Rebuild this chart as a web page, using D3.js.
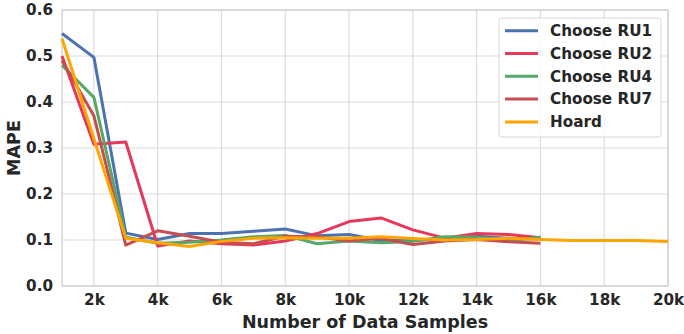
<!DOCTYPE html>
<html>
<head>
<meta charset="utf-8">
<script src="https://cdn.jsdelivr.net/npm/d3@7"></script>
<style>
  body { margin: 0; background: #fff; }
  text { font-family: "DejaVu Sans", sans-serif; font-weight: bold; fill: #262626; }
</style>
</head>
<body>
<div id="chart"></div>
<script>
// sample counts in thousands
var samples = [1, 2, 3, 4, 5, 6, 7, 8, 9, 10, 11, 12, 13, 14, 15, 16, 17, 18, 19, 20];
var ru1 = [0.549, 0.497, 0.115, 0.101, 0.114, 0.114, 0.119, 0.124, 0.109, 0.112, 0.099, 0.100, 0.101, 0.108, 0.104, 0.102];
var ru2 = [0.500, 0.308, 0.313, 0.087, 0.098, 0.092, 0.089, 0.098, 0.114, 0.140, 0.148, 0.122, 0.104, 0.114, 0.112, 0.105];
var ru4 = [0.480, 0.410, 0.106, 0.093, 0.095, 0.100, 0.107, 0.110, 0.092, 0.098, 0.094, 0.097, 0.107, 0.106, 0.098, 0.106];
var ru7 = [0.490, 0.370, 0.089, 0.120, 0.108, 0.095, 0.092, 0.108, 0.107, 0.098, 0.104, 0.090, 0.098, 0.101, 0.096, 0.093];
var hoard = [0.538, 0.320, 0.104, 0.094, 0.086, 0.097, 0.104, 0.105, 0.104, 0.104, 0.107, 0.103, 0.100, 0.101, 0.104, 0.101, 0.099, 0.099, 0.099, 0.097];
var seriesNames = ["Choose RU1", "Choose RU2", "Choose RU4", "Choose RU7", "Hoard"];
var seriesColors = ["#4c72b0", "#e6395a", "#55a868", "#c44e52", "#ffa500"];
var xTicks = [2, 4, 6, 8, 10, 12, 14, 16, 18, 20];
var yTicks = [0, 0.1, 0.2, 0.3, 0.4, 0.5, 0.6];

var width = 684, height = 334,
  margin = {left: 62, right: 16, top: 10, bottom: 48};

var svg = d3.select("#chart").append("svg")
  .attr("width", width)
  .attr("height", height);

var x = d3.scaleLinear().domain([1, 20]).range([margin.left, width - margin.right]);
var y = d3.scaleLinear().domain([0, 0.6]).range([height - margin.bottom, margin.top]);

// grid
svg.append("g").selectAll("line").data(xTicks).enter().append("line")
  .attr("x1", d => x(d)).attr("x2", d => x(d))
  .attr("y1", y(0)).attr("y2", y(0.6))
  .attr("stroke", "#dcdcdc").attr("stroke-width", 1.2);
svg.append("g").selectAll("line").data(yTicks).enter().append("line")
  .attr("x1", x(1)).attr("x2", x(20))
  .attr("y1", d => y(d)).attr("y2", d => y(d))
  .attr("stroke", "#dcdcdc").attr("stroke-width", 1.2);

// frame
svg.append("rect")
  .attr("x", x(1)).attr("y", y(0.6))
  .attr("width", x(20) - x(1)).attr("height", y(0) - y(0.6))
  .attr("fill", "none").attr("stroke", "#cccccc").attr("stroke-width", 1.2);

// axes
var xAxis = svg.append("g")
  .attr("transform", "translate(0," + y(0) + ")")
  .call(d3.axisBottom(x).tickValues(xTicks).tickSize(0).tickPadding(8).tickFormat(d => d + "k"));
var yAxis = svg.append("g")
  .attr("transform", "translate(" + x(1) + ",0)")
  .call(d3.axisLeft(y).tickValues(yTicks).tickSize(0).tickPadding(9).tickFormat(d3.format(".1f")));
[xAxis, yAxis].forEach(function(a) {
  a.select(".domain").remove();
  a.selectAll("text").attr("font-size", 15.2).style("font-family", "DejaVu Sans").style("font-weight", "bold").attr("fill", "#262626");
});

svg.append("text")
  .attr("x", (x(1) + x(20)) / 2).attr("y", 328)
  .attr("text-anchor", "middle").attr("font-size", 17.5)
  .text("Number of Data Samples");
svg.append("text")
  .attr("transform", "translate(20," + ((y(0) + y(0.6)) / 2) + ") rotate(-90)")
  .attr("text-anchor", "middle").attr("font-size", 17.5)
  .text("MAPE");

// lines
var allSeries = [ru1, ru2, ru4, ru7, hoard];
var line = d3.line()
  .x((d, i) => x(samples[i]))
  .y(d => y(d));
allSeries.forEach(function(s, k) {
  svg.append("path")
    .datum(s)
    .attr("d", line)
    .attr("fill", "none")
    .attr("stroke", seriesColors[k])
    .attr("stroke-width", 3)
    .attr("stroke-linejoin", "round");
});

// legend
var legend = svg.append("g").attr("transform", "translate(499,18)");
legend.append("rect")
  .attr("width", 162).attr("height", 119).attr("rx", 3)
  .attr("fill", "#fff").attr("fill-opacity", 0.85)
  .attr("stroke", "#d6d6d6").attr("stroke-width", 1);
seriesNames.forEach(function(name, k) {
  var row = legend.append("g").attr("transform", "translate(0," + (12.7 + k * 22.8) + ")");
  row.append("line")
    .attr("x1", 6).attr("x2", 39)
    .attr("stroke", seriesColors[k]).attr("stroke-width", 3);
  row.append("text")
    .attr("x", 51).attr("dy", "0.35em")
    .attr("font-size", 15.2)
    .text(name);
});
</script>
</body>
</html>
